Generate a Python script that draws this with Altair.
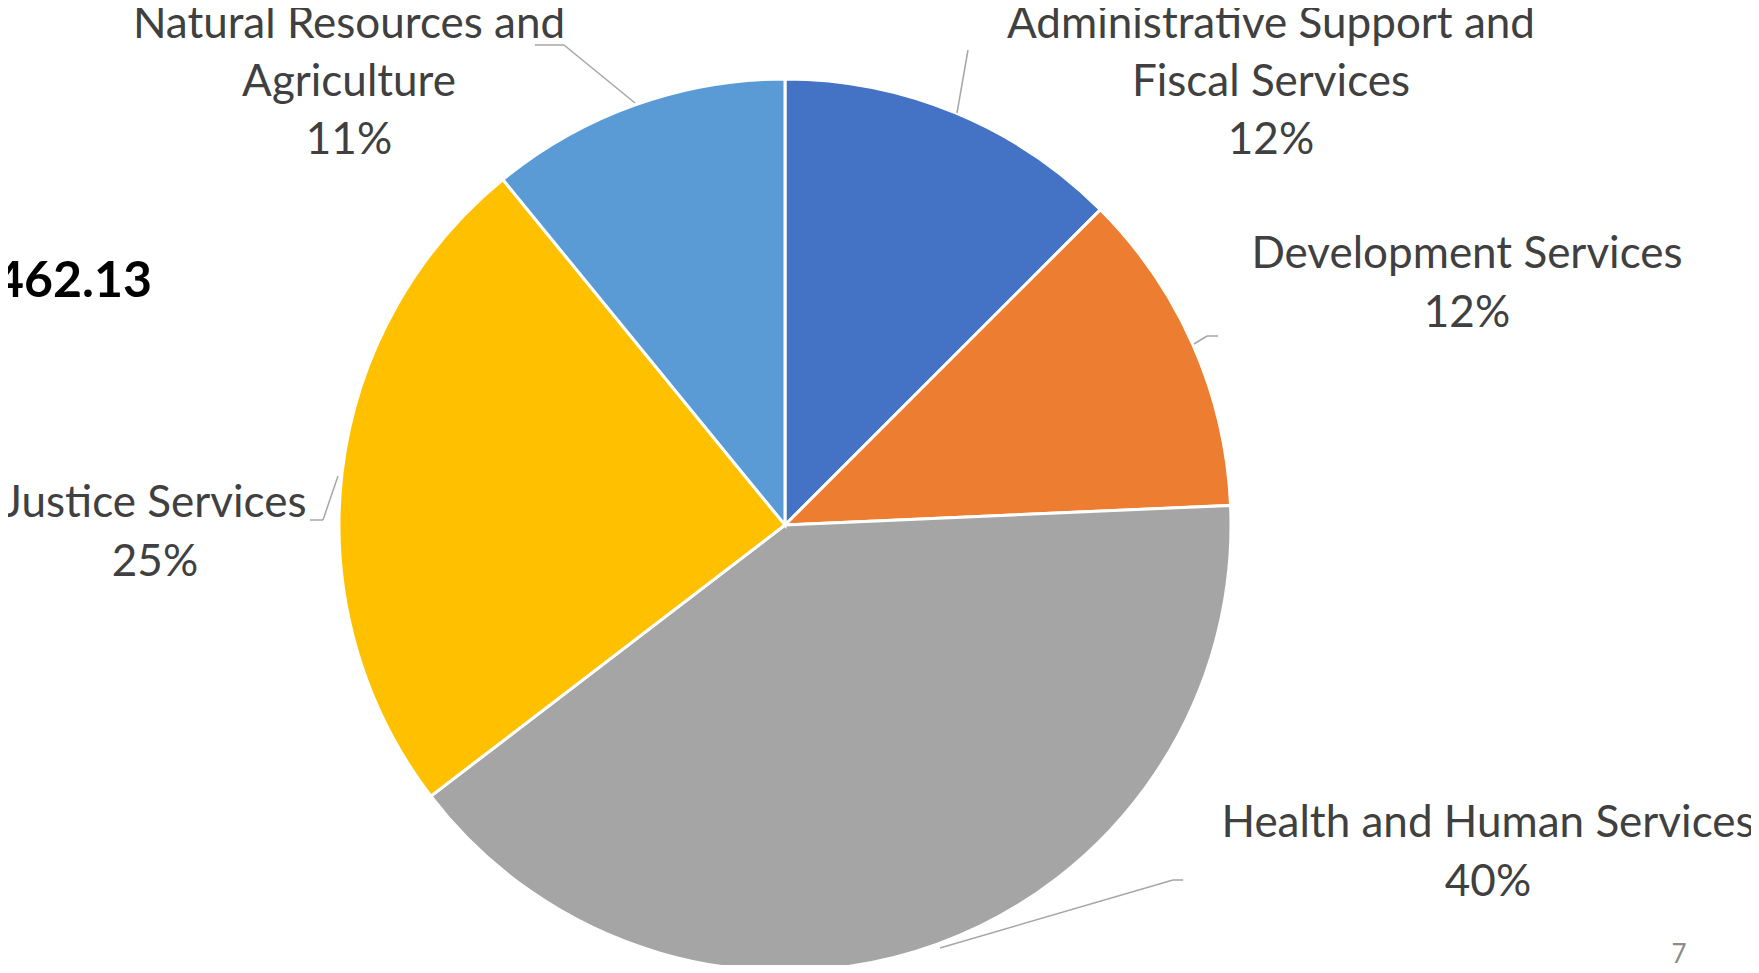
import altair as alt
import pandas as pd

# ---- data ----
categories = [
    "Administrative Support and Fiscal Services",
    "Development Services",
    "Health and Human Services",
    "Justice Services",
    "Natural Resources and Agriculture",
]
shares = [12.5, 11.8, 40.3, 24.5, 10.9]
label_lines = [
    ["Administrative Support and", "Fiscal Services", "12%"],
    ["Development Services", "12%"],
    ["Health and Human Services", "40%"],
    ["Justice Services", "25%"],
    ["Natural Resources and", "Agriculture", "11%"],
]
colors = ["#4472C4", "#ED7D31", "#A5A5A5", "#FFC000", "#5B9BD5"]
partial_total = "462.13"
page_number = "7"

# ---- layout (page px minus 8 px margin) ----
OFF = 8
CX, CY, R = 785 - OFF, 525 - OFF, 446
FONT = "Lato"
label_anchor = [  # center x, first line y, line step
    (1271, 25, 58),
    (1467, 255, 59),
    (1488, 824, 59),
    (155, 504, 59),
    (349, 25, 58),
]
leaders = [
    [(968, 50), (957, 113)],
    [(1194, 344), (1207, 336), (1218, 336)],
    [(940, 948), (1173, 880), (1183, 880)],
    [(338, 476), (323, 520), (310, 520)],
    [(535, 45), (564, 45), (635, 103)],
]

pie_df = pd.DataFrame({
    "category": categories,
    "share": shares,
    "order": list(range(len(categories))),
})

rows = []
for cat, lines, (lx, ly, step) in zip(categories, label_lines, label_anchor):
    for i, t in enumerate(lines):
        rows.append({"category": cat, "text": t, "px": lx - OFF, "py": ly + i * step - OFF})
text_df = pd.DataFrame(rows)

seg = []
for cat, pts in zip(categories, leaders):
    for (x1, y1), (x2, y2) in zip(pts[:-1], pts[1:]):
        seg.append({"category": cat, "x1": x1 - OFF, "y1": y1 - OFF, "x2": x2 - OFF, "y2": y2 - OFF})
seg_df = pd.DataFrame(seg)

pie = alt.Chart(pie_df).mark_arc(
    outerRadius=R, stroke="white", strokeWidth=3
).encode(
    theta=alt.Theta("share:Q", stack=True),
    order=alt.Order("order:Q"),
    color=alt.Color("category:N", scale=alt.Scale(domain=categories, range=colors), legend=None),
    x=alt.value(CX),
    y=alt.value(CY),
)

leader_lines = alt.Chart(seg_df).mark_rule(color="#A6A6A6", strokeWidth=1.5).encode(
    x=alt.X("x1:Q", scale=None),
    y=alt.Y("y1:Q", scale=None),
    x2="x2:Q",
    y2="y2:Q",
)

labels = alt.Chart(text_df).mark_text(
    font=FONT, fontSize=44, color="#404040",
    align="center", baseline="middle",
).encode(
    x=alt.X("px:Q", scale=None),
    y=alt.Y("py:Q", scale=None),
    text="text:N",
)

total_txt = alt.Chart(pd.DataFrame({"t": [partial_total]})).mark_text(
    font=FONT, fontSize=50, fontWeight="bold", color="#000000",
    align="right", baseline="middle",
).encode(x=alt.value(152 - OFF), y=alt.value(282 - OFF), text="t:N")

page_txt = alt.Chart(pd.DataFrame({"t": [page_number]})).mark_text(
    font=FONT, fontSize=26, color="#8C8C8C",
    align="center", baseline="middle",
).encode(x=alt.value(1679 - OFF), y=alt.value(955 - OFF), text="t:N")

chart = alt.layer(pie, leader_lines, labels, total_txt, page_txt).properties(
    width=1743, height=957, padding=0, autosize=alt.AutoSizeParams(type="none")
).configure_view(stroke=None)

chart.save("out.html", embed_options={"renderer": "svg", "actions": False})
